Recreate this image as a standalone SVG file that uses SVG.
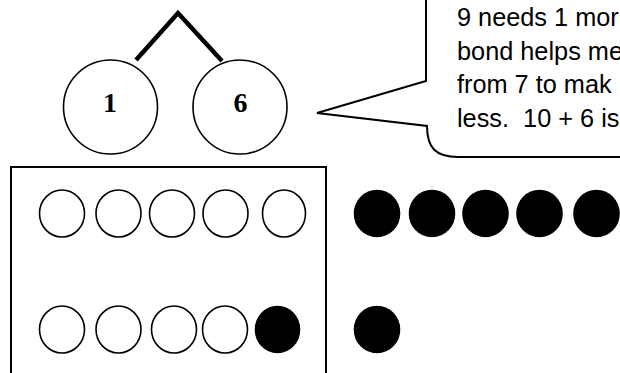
<svg xmlns="http://www.w3.org/2000/svg" width="620" height="373" viewBox="0 0 620 373">
<style>
.bond{fill:#fff;stroke:#000;stroke-width:1.6}
.num{font-family:"Liberation Serif",serif;font-weight:bold;font-size:28px;text-anchor:middle;fill:#000}
.say{font-family:"Liberation Sans",Arial,sans-serif;font-size:25.3px;fill:#000}
.e{fill:#fff;stroke:#000;stroke-width:1.6}
.f{fill:#000;stroke:#000;stroke-width:1.6}
</style>
<rect width="620" height="373" fill="#fff"/>
<g id="connectors">
<polyline points="136,60 178,13 222,61" fill="none" stroke="#000" stroke-width="4.5"/>
</g>
<g id="part-1">
<circle class="bond" cx="110.5" cy="107" r="47"/>
<text class="num" x="110" y="112">1</text>
</g>
<g id="part-6">
<circle class="bond" cx="240" cy="107" r="47"/>
<text class="num" x="240.5" y="112">6</text>
</g>
<g id="speech-bubble">
<path d="M426,-2 L426,81 L317,113 L427,126 C427,148 436,157 458,157 L622,157" fill="none" stroke="#000" stroke-width="2"/>
<text class="say" x="457" y="26">9 needs 1 mor</text>
<text class="say" x="457" y="59.5">bond helps me</text>
<text class="say" x="457" y="93">from 7 to mak</text>
<text class="say" x="457" y="127" xml:space="preserve">less.  10 + 6 is</text>
</g>
<g id="ten-frame">
<rect x="11" y="167" width="315" height="220" fill="none" stroke="#000" stroke-width="2"/>
<ellipse class="e" cx="62" cy="213.5" rx="22.5" ry="23.5"/>
<ellipse class="e" cx="118.5" cy="213.5" rx="22.5" ry="23.5"/>
<ellipse class="e" cx="172" cy="213.5" rx="22.5" ry="23.5"/>
<ellipse class="e" cx="225.5" cy="213.5" rx="22.5" ry="23.5"/>
<ellipse class="e" cx="284" cy="213.5" rx="21.5" ry="23.5"/>
<ellipse class="e" cx="62" cy="329.5" rx="22.5" ry="23.5"/>
<ellipse class="e" cx="118.5" cy="329.5" rx="22.5" ry="23.5"/>
<ellipse class="e" cx="174" cy="329.5" rx="22.5" ry="23.5"/>
<ellipse class="e" cx="225" cy="329.5" rx="22.5" ry="23.5"/>
<ellipse class="f" cx="277.5" cy="329.5" rx="22" ry="23"/>
</g>
<g id="counters">
<ellipse class="f" cx="377" cy="213.5" rx="22.5" ry="23"/>
<ellipse class="f" cx="432" cy="213.5" rx="22.5" ry="23"/>
<ellipse class="f" cx="485.5" cy="213.5" rx="22.5" ry="23"/>
<ellipse class="f" cx="539.5" cy="213.5" rx="22.5" ry="23"/>
<ellipse class="f" cx="596.5" cy="213.5" rx="22.5" ry="23"/>
<ellipse class="f" cx="377" cy="329.5" rx="22.5" ry="23"/>
</g>
</svg>
